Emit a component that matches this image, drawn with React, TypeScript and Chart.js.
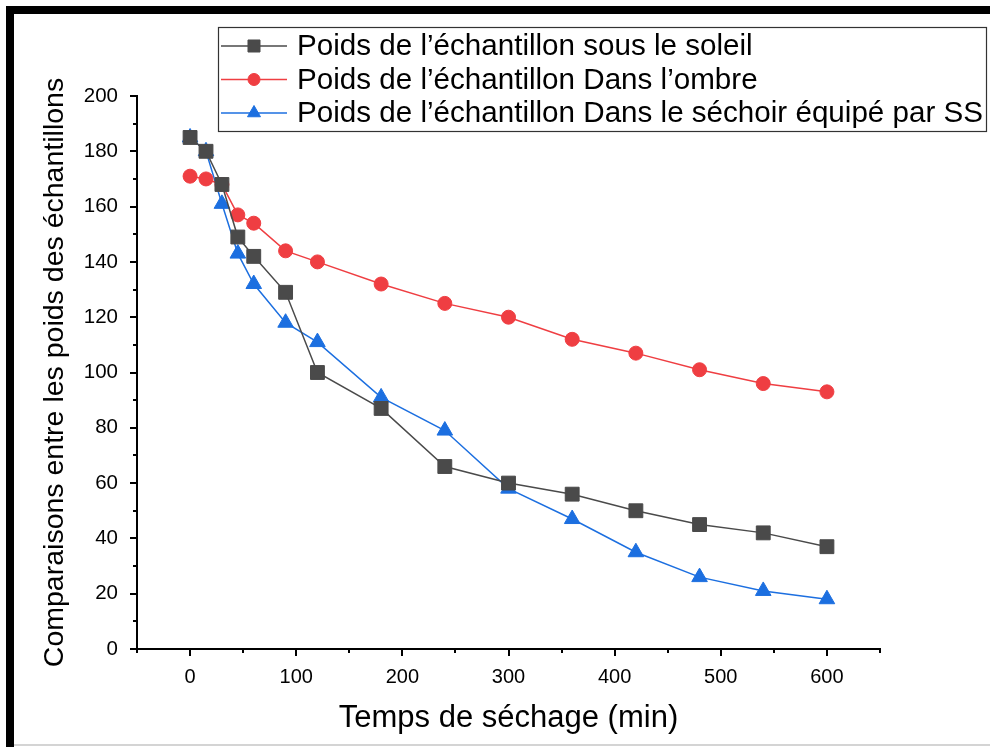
import React, { useEffect, useRef } from 'react';
import { Chart, registerables } from 'chart.js';

Chart.register(...registerables);

// ---- data ----
const timesMin = [0, 15, 30, 45, 60, 90, 120, 180, 240, 300, 360, 420, 480, 540, 600];
const soleilValues = [185, 180, 168, 149, 142, 129, 100, 87, 66, 60, 56, 50, 45, 42, 37];
const ombreValues = [171, 170, 168, 157, 154, 144, 140, 132, 125, 120, 112, 107, 101, 96, 93];
const sechoirValues = [185, 180, 161, 143, 132, 118, 111, 91, 79, 58, 47, 35, 26, 21, 18];

const seriesLabels = [
  'Poids de l\u2019\u00e9chantillon sous le soleil',
  'Poids de l\u2019\u00e9chantillon Dans l\u2019ombre',
  'Poids de l\u2019\u00e9chantillon Dans le s\u00e9choir \u00e9quip\u00e9 par SS',
];
const xAxisTitle = 'Temps de s\u00e9chage (min)';
const yAxisTitle = 'Comparaisons entre les poids des \u00e9chantillons';

const xTickValues = [0, 100, 200, 300, 400, 500, 600];
const yTickValues = [0, 20, 40, 60, 80, 100, 120, 140, 160, 180, 200];

const xMin = -50;
const xMax = 650;
const xMajorStep = 100;
const xMinorStep = 50;
const yMin = 0;
const yMax = 200;
const yMajorStep = 20;
const yMinorStep = 10;

const FONT = "'Liberation Sans', Arial, sans-serif";

const seriesColors = ['#4a4a4a', '#ef3e42', '#1c6fe0'];
const seriesPointStyles = ['rect', 'circle', 'triangle'];
const seriesRadii = [9.8, 7, 9];
const legendRadii = [8.5, 6, 7.5];

const toPoints = (vals: number[]) => vals.map((v, i) => ({ x: timesMin[i], y: v }));

const axisTicksPlugin = {
  id: 'axisTicks',
  afterDraw(chart: any) {
    const { ctx, chartArea } = chart;
    const xs = chart.scales.x;
    const ys = chart.scales.y;
    ctx.save();
    ctx.strokeStyle = '#000';
    ctx.lineWidth = 2;
    for (let v = xMin; v <= xMax + 1e-6; v += xMinorStep) {
      const px = Math.round(xs.getPixelForValue(v));
      const major = Math.abs(v % xMajorStep) < 1e-6;
      ctx.beginPath();
      ctx.moveTo(px, chartArea.bottom);
      ctx.lineTo(px, chartArea.bottom + (major ? 7 : 4));
      ctx.stroke();
    }
    for (let v = yMin; v <= yMax + 1e-6; v += yMinorStep) {
      const py = Math.round(ys.getPixelForValue(v));
      const major = Math.abs(v % yMajorStep) < 1e-6;
      ctx.beginPath();
      ctx.moveTo(chartArea.left, py);
      ctx.lineTo(chartArea.left - (major ? 7 : 4), py);
      ctx.stroke();
    }
    ctx.restore();
  },
};

function drawMarker(ctx: CanvasRenderingContext2D, style: string, x: number, y: number, r: number) {
  ctx.beginPath();
  if (style === 'rect') {
    const s = Math.SQRT1_2 * r;
    ctx.rect(x - s, y - s, 2 * s, 2 * s);
  } else if (style === 'circle') {
    ctx.arc(x, y, r, 0, Math.PI * 2);
  } else {
    let rad = 0;
    ctx.moveTo(x + Math.sin(rad) * r, y - Math.cos(rad) * r);
    rad += (2 * Math.PI) / 3;
    ctx.lineTo(x + Math.sin(rad) * r, y - Math.cos(rad) * r);
    rad += (2 * Math.PI) / 3;
    ctx.lineTo(x + Math.sin(rad) * r, y - Math.cos(rad) * r);
    ctx.closePath();
  }
  ctx.fill();
  ctx.stroke();
}

const boxLegendPlugin = {
  id: 'boxLegend',
  afterDraw(chart: any) {
    const { ctx } = chart;
    const left = 218;
    const top = 27;
    const right = 986;
    const bottom = 131;
    const rowY = [46, 79.5, 113];
    ctx.save();
    ctx.fillStyle = '#fff';
    ctx.fillRect(left, top, right - left, bottom - top);
    ctx.strokeStyle = '#333';
    ctx.lineWidth = 1.2;
    ctx.strokeRect(left + 0.5, top + 0.5, right - left, bottom - top);
    chart.data.datasets.forEach((ds: any, i: number) => {
      const y = rowY[i];
      ctx.strokeStyle = ds.borderColor;
      ctx.lineWidth = 1.5;
      ctx.beginPath();
      ctx.moveTo(221, y);
      ctx.lineTo(287, y);
      ctx.stroke();
      ctx.fillStyle = ds.pointBackgroundColor;
      ctx.strokeStyle = ds.pointBorderColor;
      ctx.lineWidth = 1;
      drawMarker(ctx, ds.pointStyle, 254, y, legendRadii[i]);
      ctx.fillStyle = '#000';
      ctx.font = `29.6px ${FONT}`;
      ctx.textAlign = 'left';
      ctx.textBaseline = 'middle';
      ctx.fillText(ds.label, 297, y + 1);
    });
    ctx.restore();
  },
};

export default function App() {
  const canvasRef = useRef<HTMLCanvasElement | null>(null);

  useEffect(() => {
    if (!canvasRef.current) return;
    const seriesValues = [soleilValues, ombreValues, sechoirValues];
    const chart = new Chart(canvasRef.current, {
      type: 'scatter',
      data: {
        datasets: seriesValues.map((vals, i) => ({
          label: seriesLabels[i],
          data: toPoints(vals),
          showLine: true,
          borderColor: seriesColors[i],
          borderWidth: 1.5,
          backgroundColor: seriesColors[i],
          pointBackgroundColor: seriesColors[i],
          pointBorderColor: seriesColors[i],
          pointBorderWidth: 1,
          pointStyle: seriesPointStyles[i],
          pointRadius: seriesRadii[i],
          tension: 0,
        })),
      },
      options: {
        animation: false,
        responsive: false,
        devicePixelRatio: 1,
        layout: { padding: { top: 96, right: 110, left: 0, bottom: 0 } },
        plugins: {
          legend: { display: false },
          tooltip: { enabled: false },
        },
        scales: {
          x: {
            type: 'linear',
            min: xMin,
            max: xMax,
            afterBuildTicks: (s: any) => {
              s.ticks = xTickValues.map((v) => ({ value: v }));
            },
            afterFit: (s: any) => {
              s.height = 98;
            },
            grid: { display: true, drawOnChartArea: false, drawTicks: false },
            border: { display: true, color: '#000', width: 2 },
            ticks: {
              padding: 16,
              color: '#000',
              font: { family: FONT, size: 20 },
              maxRotation: 0,
              autoSkip: false,
            },
            title: {
              display: true,
              text: xAxisTitle,
              color: '#000',
              font: { family: FONT, size: 31 },
              padding: { top: 0, bottom: 10 },
            },
          },
          y: {
            type: 'linear',
            min: yMin,
            max: yMax,
            afterBuildTicks: (s: any) => {
              s.ticks = yTickValues.map((v) => ({ value: v }));
            },
            afterFit: (s: any) => {
              s.width = 137;
            },
            grid: { display: true, drawOnChartArea: false, drawTicks: false },
            border: { display: true, color: '#000', width: 2 },
            ticks: {
              padding: 19,
              color: '#000',
              font: { family: FONT, size: 20.5 },
              autoSkip: false,
            },
            title: {
              display: true,
              text: yAxisTitle,
              color: '#000',
              font: { family: FONT, size: 28.5 },
              padding: { top: 38, bottom: 0 },
            },
          },
        },
      } as any,
      plugins: [axisTicksPlugin, boxLegendPlugin],
    });
    return () => chart.destroy();
  }, []);

  return (
    <div
      style={{
        position: 'absolute',
        left: 0,
        top: 0,
        width: 990,
        height: 747,
        background: '#fff',
        overflow: 'hidden',
      }}
    >
      <canvas ref={canvasRef} width={990} height={747} style={{ position: 'absolute', left: 0, top: 0 }} />
      <div style={{ position: 'absolute', left: 6, top: 6, width: 984, height: 8, background: '#000' }} />
      <div style={{ position: 'absolute', left: 6, top: 6, width: 8, height: 741, background: '#000' }} />
      <div style={{ position: 'absolute', left: 14, top: 744, width: 976, height: 2, background: '#d4d4d4' }} />
    </div>
  );
}
